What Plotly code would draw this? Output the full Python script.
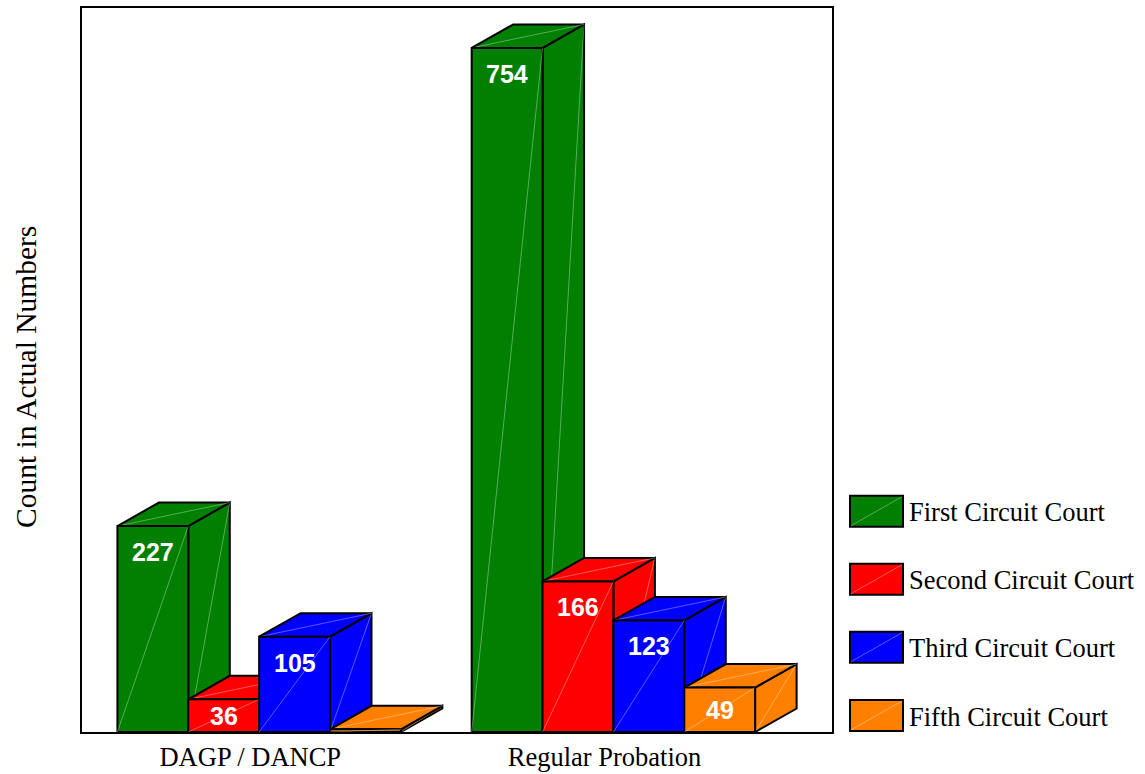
import plotly.graph_objects as go

# ---- data ----
categories = ["DAGP / DANCP", "Regular Probation"]
series_names = ["First Circuit Court", "Second Circuit Court",
                "Third Circuit Court", "Fifth Circuit Court"]
first_circuit = [227, 754]
second_circuit = [36, 166]
third_circuit = [105, 123]
fifth_circuit = [3, 49]
series_colors = ["#007f00", "#ff0000", "#0000ff", "#ff8000"]
y_title = "Count in Actual Numbers"

values = [first_circuit, second_circuit, third_circuit, fifth_circuit]

# ---- geometry / style constants ----
W, H = 1145, 774
L, R, T, B = 82, 832, 8, 732          # plot area in pixels
BAR_W = 0.2                            # bar width in category units
X_RANGE = [-0.5, 1.617]
Y_MAX = 798
PX_PER_Y = (B - T) / Y_MAX
PX_PER_X = (R - L) / (X_RANGE[1] - X_RANGE[0])
DX = 41.5 / PX_PER_X                   # 3D depth offset (x)
DY = 23.5 / PX_PER_Y                   # 3D depth offset (y)
EDGE = dict(color="black", width=2)
DIAG = dict(color="rgba(255,255,255,0.35)", width=1)
SERIF = "Liberation Serif, Times New Roman, serif"
SANS = "Liberation Sans, Arial, sans-serif"


def px_to_paper_x(px):
    return (px - L) / (R - L)


def px_to_paper_y(py):
    return (B - py) / (B - T)


fig = go.Figure()


def face(xs, ys, color):
    fig.add_trace(go.Scatter(x=xs + [xs[0]], y=ys + [ys[0]], mode="lines",
                             fill="toself", fillcolor=color, line=EDGE,
                             hoverinfo="skip", showlegend=False))


def diag(xs, ys):
    fig.add_trace(go.Scatter(x=xs, y=ys, mode="lines", line=DIAG,
                             hoverinfo="skip", showlegend=False))


annotations = []
for g, cat in enumerate(categories):
    for s, name in enumerate(series_names):
        v = values[s][g]
        col = series_colors[s]
        x0 = g - 2 * BAR_W + s * BAR_W
        x1 = x0 + BAR_W
        # side face
        face([x1, x1 + DX, x1 + DX, x1], [0, DY, v + DY, v], col)
        diag([x1, x1 + DX], [0, v + DY])
        # top face
        face([x0, x0 + DX, x1 + DX, x1], [v, v + DY, v + DY, v], col)
        diag([x0, x1 + DX], [v, v + DY])
        # front face
        face([x0, x1, x1, x0], [0, 0, v, v], col)
        diag([x0, x1], [0, v])
        # value label
        hpx = v * PX_PER_Y
        if hpx >= 20:
            off_px = min(26, hpx / 2)
            annotations.append(dict(
                x=(x0 + x1) / 2, y=v - off_px / PX_PER_Y, xref="x", yref="y",
                text=f"<b>{v}</b>", showarrow=False, xanchor="center",
                yanchor="middle",
                font=dict(family=SANS, size=25, color="white")))

# ---- manual legend ----
shapes = []
legend_tops = [495.7, 563.7, 631.7, 700]
for s, name in enumerate(series_names):
    top = legend_tops[s]
    bot = top + 31
    bx0, bx1 = 850, 903
    shapes.append(dict(type="rect", xref="paper", yref="paper",
                       x0=px_to_paper_x(bx0), x1=px_to_paper_x(bx1),
                       y0=px_to_paper_y(bot), y1=px_to_paper_y(top),
                       fillcolor=series_colors[s], line=EDGE, layer="above"))
    shapes.append(dict(type="line", xref="paper", yref="paper",
                       x0=px_to_paper_x(bx0 + 1), x1=px_to_paper_x(bx1 - 1),
                       y0=px_to_paper_y(bot - 1), y1=px_to_paper_y(top + 1),
                       line=DIAG, layer="above"))
    annotations.append(dict(x=px_to_paper_x(907), y=px_to_paper_y((top + bot) / 2 + 1),
                            xref="paper", yref="paper", text=name,
                            showarrow=False, xanchor="left", yanchor="middle",
                            font=dict(family=SERIF, size=26.5, color="black")))

# y-axis title
annotations.append(dict(x=px_to_paper_x(26), y=px_to_paper_y(377),
                        xref="paper", yref="paper", text=y_title,
                        textangle=-90, showarrow=False, xanchor="center",
                        yanchor="middle",
                        font=dict(family=SERIF, size=29.5, color="black")))

fig.update_layout(
    width=W, height=H,
    margin=dict(l=L, r=W - R, t=T, b=H - B),
    paper_bgcolor="white", plot_bgcolor="white",
    showlegend=False,
    annotations=annotations,
    shapes=shapes,
    xaxis=dict(range=X_RANGE, tickvals=[g - 0.025 for g in range(len(categories))],
               ticktext=categories, showgrid=False, zeroline=False,
               showline=True, linecolor="black", linewidth=2, mirror=True,
               ticks="", ticklabelstandoff=0, automargin=False,
               tickfont=dict(family=SERIF, size=26.5, color="black"),
               fixedrange=True),
    yaxis=dict(range=[0, Y_MAX], showticklabels=False, showgrid=False,
               zeroline=False, showline=True, linecolor="black", linewidth=2,
               mirror=True, ticks="", fixedrange=True, automargin=False),
)

fig.write_html("out.html")
